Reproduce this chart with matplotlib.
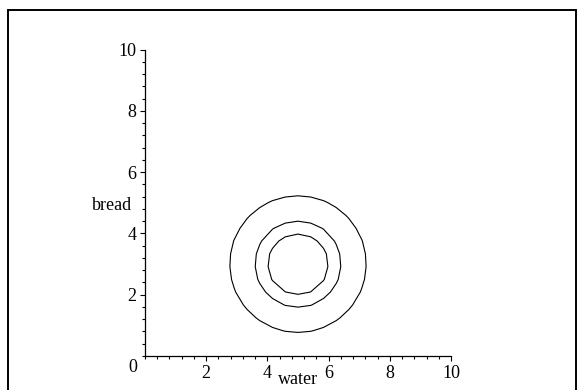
import matplotlib
matplotlib.use("Agg")
import matplotlib.pyplot as plt
import numpy as np
from matplotlib.patches import Rectangle
from matplotlib.ticker import MultipleLocator

plt.rcParams["font.family"] = ["Liberation Serif", "DejaVu Serif"]
plt.rcParams["font.size"] = 13

# contour data: f(water, bread) levels around the centre point
centre_water = 5.0
centre_bread = 3.0
contour_levels = [1, 2, 5]
grid_points = 25

x_ticks = [2, 4, 6, 8, 10]
y_ticks = [2, 4, 6, 8, 10]
x_label = "water"
y_label = "bread"

fig = plt.figure(figsize=(5.78, 3.90), dpi=100)
ax = fig.add_axes([145 / 578, 34 / 390, 306 / 578, 306.5 / 390])

water = np.linspace(0, 10, grid_points)
bread = np.linspace(0, 10, grid_points)
W, B = np.meshgrid(water, bread)
F = (W - centre_water) ** 2 + (B - centre_bread) ** 2
ax.contour(W, B, F, levels=contour_levels, colors="black", linewidths=0.8)

ax.set_xlim(0, 10)
ax.set_ylim(0, 10)
ax.set_xticks(x_ticks)
ax.set_yticks(y_ticks)
ax.xaxis.set_minor_locator(MultipleLocator(0.4))
ax.yaxis.set_minor_locator(MultipleLocator(0.4))
ax.tick_params(which="major", length=3.8, width=0.8, direction="out", pad=2.5, labelsize=13)
ax.tick_params(which="minor", length=2.2, width=0.8, direction="out")

for side in ["top", "right"]:
    ax.spines[side].set_visible(False)
for side in ["left", "bottom"]:
    ax.spines[side].set_linewidth(0.9)

# origin label shared by both axes
ax.annotate("0", xy=(0, 0), xycoords="data", xytext=(-9, -8),
            textcoords="offset points", ha="center", va="center", fontsize=13)
ax.annotate(x_label, xy=(5, 0), xycoords="data", xytext=(0, -17),
            textcoords="offset points", ha="center", va="center", fontsize=13)
ax.annotate(y_label, xy=(0, 4.92), xycoords="data", xytext=(-9, 0),
            textcoords="offset points", ha="right", va="center", fontsize=13)

fig.patches.append(Rectangle((8 / 578, -0.1), 568 / 578, 1.1 - 10 / 390,
                             transform=fig.transFigure, fill=False,
                             edgecolor="black", linewidth=1.4))

fig.savefig("out.png", dpi=100)
